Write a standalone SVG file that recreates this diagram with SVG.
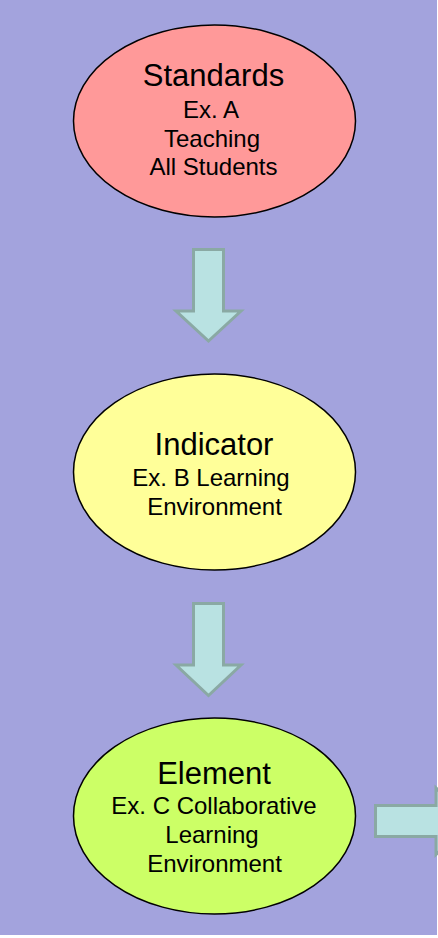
<svg xmlns="http://www.w3.org/2000/svg" width="438" height="938" viewBox="0 0 438 938">
<style>
.node{stroke:#000;stroke-width:1.5}
.t{font-family:"Liberation Sans",Arial,sans-serif;text-anchor:middle;fill:#000}
.m{font-size:31px}
.s{font-size:24px}
.arr{fill:#b9e2e2;stroke:#8aa9a4;stroke-width:3;stroke-linejoin:miter}
</style>
<rect x="0" y="0" width="437" height="935" fill="#a3a3dd"/>
<g id="connectors">
<polygon class="arr" points="193.5,249.5 223.5,249.5 223.5,311 241,311 208.5,341 176,311 193.5,311"/>
<polygon class="arr" points="193.5,603.5 223.5,603.5 223.5,665 241,665 208.5,695.5 176,665 193.5,665"/>
<polygon class="arr" points="375.5,805.5 436,805.5 436,788 470,821 436,854.5 436,836.5 375.5,836.5"/>
</g>
<g id="standards">
<ellipse class="node" cx="214.5" cy="121" rx="141" ry="96" fill="#ff9999"/>
<text class="t m" x="213.5" y="86">Standards</text>
<text class="t s" x="211" y="118">Ex. A</text>
<text class="t s" x="212" y="147">Teaching</text>
<text class="t s" x="213.5" y="175">All Students</text>
</g>
<g id="indicator">
<ellipse class="node" cx="214.5" cy="472" rx="141" ry="98" fill="#ffff99"/>
<text class="t m" x="214" y="455">Indicator</text>
<text class="t s" x="211" y="486">Ex. B Learning</text>
<text class="t s" x="214.5" y="515">Environment</text>
</g>
<g id="element">
<ellipse class="node" cx="214.5" cy="816" rx="141" ry="98" fill="#ccff66"/>
<text class="t m" x="214" y="784">Element</text>
<text class="t s" x="214" y="814">Ex. C Collaborative</text>
<text class="t s" x="212" y="843">Learning</text>
<text class="t s" x="214.5" y="872">Environment</text>
</g>
</svg>
